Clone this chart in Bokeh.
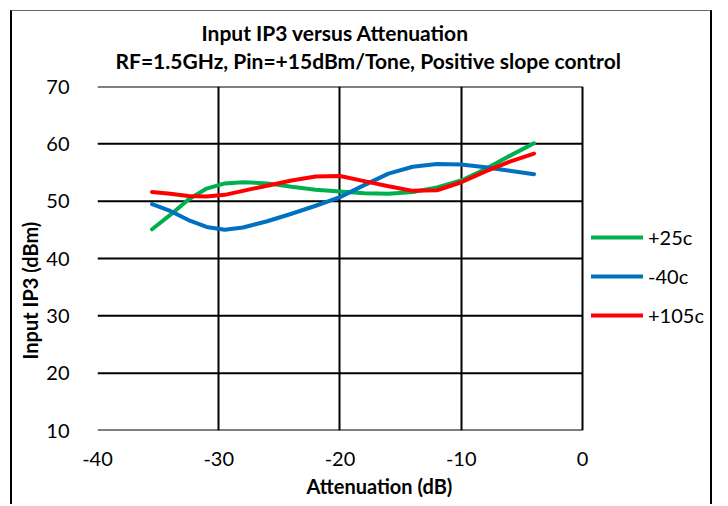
from bokeh.plotting import figure
from bokeh.models import Range1d, FixedTicker, Title, Legend, LegendItem
from bokeh.embed import file_html
from bokeh.resources import INLINE

# ---- data ----
atten = [-35.5, -34, -32.5, -31, -29.5, -28, -26, -24, -22, -20, -18, -16, -14, -12, -10, -8, -6, -4]
iip3_p25 = [45.1, 47.6, 50.3, 52.2, 53.1, 53.3, 53.1, 52.5, 52.0, 51.7, 51.4, 51.3, 51.6, 52.4, 53.6, 55.6, 57.9, 60.1]
iip3_m40 = [49.5, 48.3, 46.7, 45.5, 45.0, 45.4, 46.5, 47.8, 49.2, 50.7, 52.8, 54.8, 56.0, 56.5, 56.4, 55.9, 55.3, 54.7]
iip3_p105 = [51.6, 51.3, 50.9, 50.8, 51.1, 51.8, 52.7, 53.6, 54.3, 54.4, 53.5, 52.6, 51.8, 51.9, 53.3, 55.2, 56.9, 58.3]
series_names = ["+25c", "-40c", "+105c"]
series_colors = ["#00B050", "#0070C0", "#FF0000"]
x_ticks = [-40, -30, -20, -10, 0]
x_tick_labels = ["-40", "-30", "-20", "-10", "0"]
y_ticks = [10, 20, 30, 40, 50, 60, 70]
y_tick_labels = ["10", "20", "30", "40", "50", "60", "70"]
title1 = "Input IP3 versus Attenuation"
title2 = "RF=1.5GHz, Pin=+15dBm/Tone, Positive slope control"
x_title = "Attenuation (dB)"
y_title = "Input IP3 (dBm)"

FONT = "Lato"
X_PAD = 10.64   # extra room right of the plot area for the legend (in x units)

p = figure(width=702, height=494, output_backend="svg", toolbar_location=None,
           x_range=Range1d(x_ticks[0], x_ticks[-1] + X_PAD),
           y_range=Range1d(y_ticks[0], y_ticks[-1]),
           min_border_left=85, min_border_right=3, min_border_top=75, min_border_bottom=75)
p.styles = {"margin-left": "10px", "margin-top": "10px", "margin-bottom": "-40px",
            "border-left": "2px solid #000", "border-right": "2px solid #000",
            "border-top": "1px solid #666"}

p.outline_line_color = None
p.background_fill_color = "white"
p.border_fill_color = "white"

# vertical grid lines (span full height of plot area)
p.xgrid[0].ticker = FixedTicker(ticks=x_ticks)
p.xgrid[0].grid_line_color = "black"
p.xgrid[0].grid_line_width = 2
# horizontal grid lines limited to the plot area (x from -40 to 0)
p.ygrid[0].grid_line_color = None
p.segment(x0=[x_ticks[0]] * len(y_ticks), x1=[x_ticks[-1]] * len(y_ticks),
          y0=y_ticks, y1=y_ticks, line_color="black", line_width=2)

p.xaxis.ticker = FixedTicker(ticks=x_ticks)
p.yaxis.ticker = FixedTicker(ticks=y_ticks)
p.xaxis.major_label_overrides = dict(zip(x_ticks, x_tick_labels))
p.yaxis.major_label_overrides = dict(zip(y_ticks, y_tick_labels))
for ax in (p.xaxis[0], p.yaxis[0]):
    ax.axis_line_color = None
    ax.major_tick_line_color = None
    ax.minor_tick_line_color = None
    ax.major_label_text_font = FONT
    ax.major_label_text_font_size = "20px"
    ax.major_label_text_color = "black"
p.xaxis.major_label_standoff = 15
p.yaxis.major_label_standoff = 22

ys = [iip3_p25, iip3_m40, iip3_p105]
items = []
for name, col, y in zip(series_names, series_colors, ys):
    r = p.line(atten, y, line_color=col, line_width=4, line_join="round", line_cap="round")
    items.append(LegendItem(label=name, renderers=[r]))

legend = Legend(items=items, location=(494, 103), glyph_width=52, glyph_height=20,
                label_height=20, label_standoff=5, spacing=15, padding=0, margin=0,
                border_line_alpha=0, background_fill_alpha=0,
                label_text_font=FONT, label_text_font_size="20px", label_text_color="black")
p.add_layout(legend, "center")

t2 = Title(text=title2, align="left", offset=18, text_font=FONT, text_font_size="21px",
           text_font_style="bold", text_color="black", standoff=27)
t1 = Title(text=title1, align="left", offset=104, text_font=FONT, text_font_size="21px",
           text_font_style="bold", text_color="black", standoff=-24)
p.add_layout(t2, "above")
p.add_layout(t1, "above")

tx = Title(text=x_title, align="left", offset=209, text_font=FONT, text_font_size="20px",
           text_font_style="bold", text_color="black", standoff=7)
p.add_layout(tx, "below")
ty = Title(text=y_title, align="left", offset=71, text_font=FONT, text_font_size="20px",
           text_font_style="bold", text_color="black", standoff=3)
p.add_layout(ty, "left")

open("out.html", "w").write(file_html(p, INLINE))
